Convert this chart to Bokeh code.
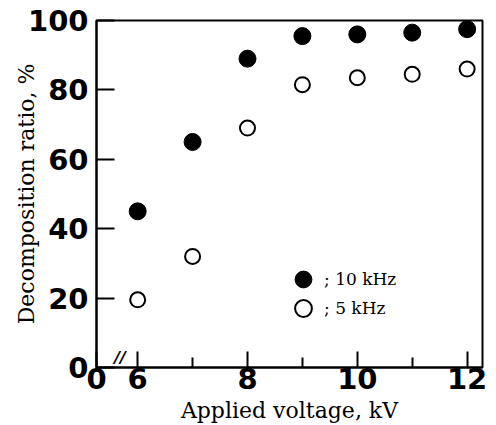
from bokeh.plotting import figure
from bokeh.models import FixedTicker, Legend, LegendItem, Label
from bokeh.embed import file_html
from bokeh.resources import INLINE

# Data
voltage_kv = [6, 7, 8, 9, 10, 11, 12]
ratio_10khz = [45, 65, 89, 95.5, 96, 96.5, 97.5]
ratio_5khz = [19.5, 32, 69, 81.5, 83.5, 84.5, 86]

x_axis_origin = 5.25          # broken axis: left edge labelled "0"
x_major_ticks = [6, 8, 10, 12]
x_minor_ticks = [7, 9, 11]
y_ticks = [0, 20, 40, 60, 80, 100]

p = figure(width=496, height=425, output_backend="svg", toolbar_location=None,
           x_range=(x_axis_origin, 12.28), y_range=(0, 100),
           min_border_left=96, min_border_right=14, min_border_top=20, min_border_bottom=58)

p.background_fill_color = "white"
p.border_fill_color = "white"
p.outline_line_color = "black"
p.outline_line_width = 2
p.xgrid.visible = False
p.ygrid.visible = False

tick_font = "DejaVu Sans"
label_font = "DejaVu Serif"

# X axis
p.xaxis.ticker = FixedTicker(ticks=[x_axis_origin] + x_major_ticks, minor_ticks=x_minor_ticks)
p.xaxis.major_label_overrides = {x_axis_origin: "0"}
p.xaxis.axis_label = "Applied voltage, kV"
p.xaxis.major_tick_in = 16
p.xaxis.major_tick_out = 0
p.xaxis.minor_tick_in = 10
p.xaxis.minor_tick_out = 0
p.xaxis.major_label_standoff = 0
p.xaxis.axis_label_standoff = 6

# Y axis
p.yaxis.ticker = FixedTicker(ticks=y_ticks, minor_ticks=[])
p.yaxis.axis_label = "Decomposition ratio, %"
p.yaxis.major_tick_in = 18
p.yaxis.major_tick_out = 0
p.yaxis.major_label_standoff = 8
p.yaxis.axis_label_standoff = -14

for ax in (p.xaxis, p.yaxis):
    ax.axis_line_color = "black"
    ax.axis_line_width = 2
    ax.major_tick_line_color = "black"
    ax.major_tick_line_width = 2
    ax.minor_tick_line_width = 2
    ax.major_label_text_font = tick_font
    ax.major_label_text_font_style = "bold"
    ax.major_label_text_font_size = "29px"
    ax.major_label_text_color = "black"
    ax.axis_label_text_font = label_font
    ax.axis_label_text_font_style = "normal"
    ax.axis_label_text_font_size = "22px"
    ax.axis_label_text_color = "black"

p.xaxis.minor_tick_line_color = "black"
p.yaxis.minor_tick_line_color = None
p.yaxis.major_label_orientation = "horizontal"

# Data marks
r10 = p.scatter(voltage_kv, ratio_10khz, marker="circle", size=17,
                fill_color="black", line_color="black", line_width=1)
r5 = p.scatter(voltage_kv, ratio_5khz, marker="circle", size=15,
               fill_color="white", line_color="black", line_width=2)

legend_style = dict(glyph_width=42, glyph_height=42, label_standoff=0,
                    padding=0, margin=0, border_line_color=None,
                    background_fill_alpha=0, label_text_font=label_font,
                    label_text_font_size="17px", label_text_color="black")
leg1 = Legend(items=[LegendItem(label="; 10 kHz", renderers=[r10])],
              location=(186, 67), **legend_style)
leg2 = Legend(items=[LegendItem(label="; 5 kHz", renderers=[r5])],
              location=(186, 38), **legend_style)
p.add_layout(leg1)
p.add_layout(leg2)

# axis break mark (kept just above the axis so the frame does not clip it)
brk = Label(x=5.68, y=0, y_offset=1, text="//", text_font=tick_font,
            text_font_size="16px", text_font_style="bold italic",
            text_align="center", text_baseline="bottom",
            text_color="black", level="overlay")
p.add_layout(brk)

open("out.html", "w").write(file_html(p, INLINE))
